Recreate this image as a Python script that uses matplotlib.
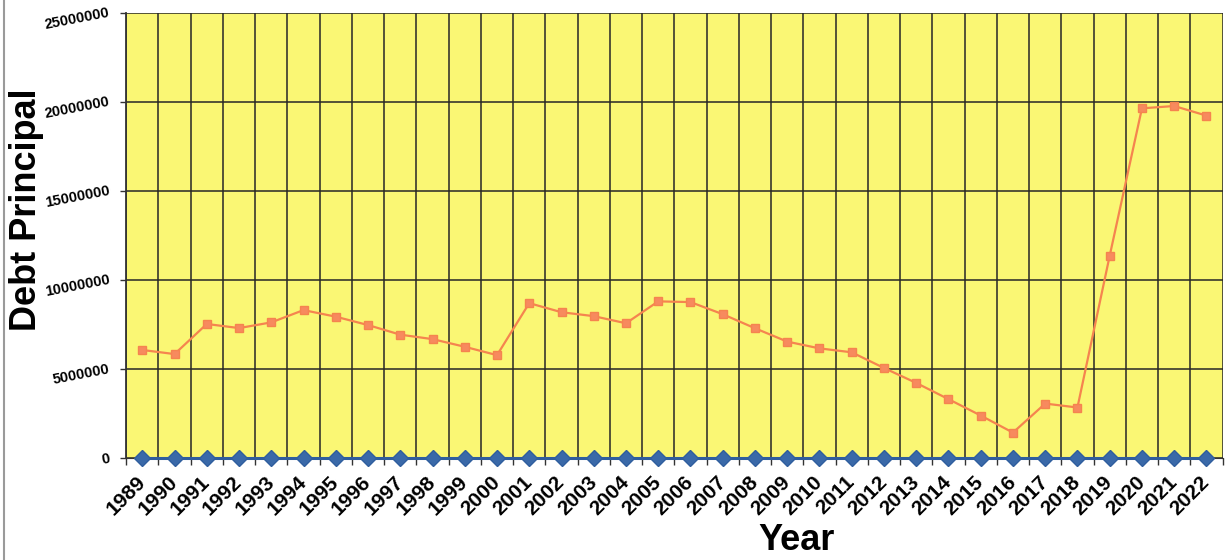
import matplotlib.pyplot as plt
from matplotlib.ticker import FixedLocator
from matplotlib.patches import Rectangle

# Годы и остаток основного долга
years = list(range(1989, 2023))
principal = [6070000, 5840000, 7530000, 7300000, 7620000, 8310000, 7940000, 7470000,
             6930000, 6680000, 6250000, 5780000, 8700000, 8190000, 7970000, 7570000,
             8800000, 8760000, 8080000, 7290000, 6540000, 6160000, 5940000, 5060000,
             4220000, 3310000, 2390000, 1430000, 3060000, 2840000, 11360000, 19640000,
             19770000, 19230000]
# вторая серия - сами годы (на этой шкале лежит у нуля)
year_series = years

y_ticks = [0, 5000000, 10000000, 15000000, 20000000, 25000000]

x = list(range(len(years)))

plt.rcParams['font.family'] = ['Liberation Sans', 'DejaVu Sans']

fig = plt.figure(figsize=(12.25, 5.6), dpi=100)
ax = fig.add_axes([0.103, 0.182, 0.895, 0.795])
ax.set_facecolor('#FAF774')

# Построение линий
ax.plot(x, year_series, color='#2F5E9E', lw=2.2, marker='D', markersize=8,
        markerfacecolor='#3A69A8', markeredgecolor='#2F5E9E', zorder=4, clip_on=False)
ax.plot(x, principal, color='#F5844F', lw=1.6, marker='s', markersize=5.5,
        markerfacecolor='#F78A5E', markeredgecolor='#F5844F', zorder=5)

ax.set_xlim(-0.5, len(years) - 0.5)
ax.set_ylim(0, 25000000)

ax.set_yticks(y_ticks)
ax.set_yticklabels([str(v) for v in y_ticks],
                   fontsize=10.5, fontweight='bold', rotation=11,
                   rotation_mode='anchor', ha='right', va='center')
ax.tick_params(axis='y', length=4, width=1, color='#333333', pad=8)

ax.set_xticks(x)
ax.set_xticklabels([str(y) for y in years], fontsize=15, fontweight='bold',
                   rotation=45, rotation_mode='anchor', ha='right', va='center')
ax.tick_params(axis='x', which='major', length=0, pad=15)
ax.xaxis.set_minor_locator(FixedLocator([i + 0.5 for i in range(-1, len(years))]))
ax.tick_params(axis='x', which='minor', length=5, width=1, color='#333333')

# Сетка
ax.grid(True, axis='y', which='major', color='#262626', lw=1.1)
ax.grid(True, axis='x', which='minor', color='#262626', lw=1.1)
ax.set_axisbelow(True)

for side in ['top', 'right']:
    ax.spines[side].set_visible(False)
ax.spines['left'].set_color('#333333')
ax.spines['bottom'].set_color('#333333')
ax.spines['left'].set_linewidth(1.3)

ax.set_ylabel('Debt Principal', fontsize=26, fontweight='bold')
ax.yaxis.set_label_coords(-0.075, 0.557)
fig.text(0.650, 0.035, 'Year', fontsize=26, fontweight='bold', ha='center', va='center')

# рамка рисунка
fig.patches.append(Rectangle((0.003, -0.01), 1.2, 1.02, transform=fig.transFigure,
                             fill=False, edgecolor='#9a9a9a', lw=1.5))

fig.savefig('out.png', dpi=100)
